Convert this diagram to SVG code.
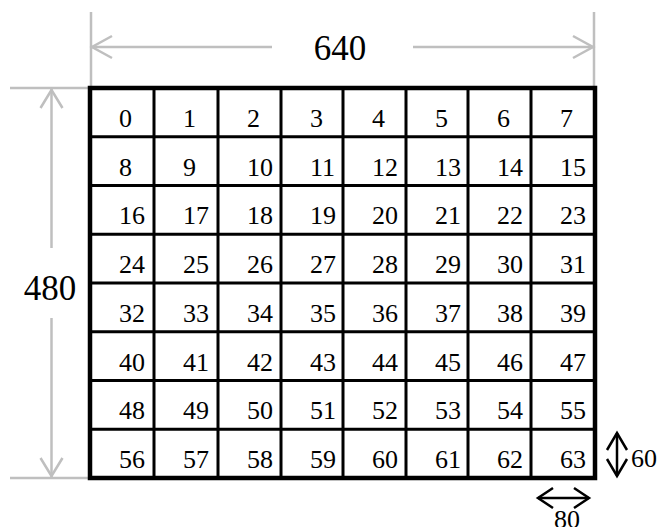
<svg xmlns="http://www.w3.org/2000/svg" width="671" height="527" viewBox="0 0 671 527">
<style>
.dim{stroke:#bfbfbf;stroke-width:2.5;fill:none}
.blk{stroke:#000;stroke-width:2.5;fill:none}
.grid{stroke:#000;stroke-width:3;fill:none}
.border{stroke:#000;stroke-width:4.5;fill:none}
text{font-family:"Liberation Serif","Times New Roman",serif;fill:#000}
.t{font-size:26px}
.big{font-size:35px}
</style>
<rect width="671" height="527" fill="#fff"/>
<g id="dimensions">
<line class="dim" x1="91" y1="12" x2="91" y2="88"/>
<line class="dim" x1="594" y1="12" x2="594" y2="88"/>
<line class="dim" x1="91" y1="47" x2="272" y2="47"/>
<line class="dim" x1="413" y1="47" x2="594" y2="47"/>
<polyline class="dim" points="112,36 92,47 112,58"/>
<polyline class="dim" points="573,36 593,47 573,58"/>
<text class="big" x="340" y="60" text-anchor="middle">640</text>
<line class="dim" x1="10" y1="88" x2="90" y2="88"/>
<line class="dim" x1="10" y1="478" x2="90" y2="478"/>
<line class="dim" x1="51.5" y1="89" x2="51.5" y2="248"/>
<line class="dim" x1="51.5" y1="318" x2="51.5" y2="477"/>
<polyline class="dim" points="40.5,108 51.5,90 62.5,108"/>
<polyline class="dim" points="40.5,458 51.5,476 62.5,458"/>
<text class="big" x="50" y="300" text-anchor="middle">480</text>
</g>
<g id="grid">
<rect class="border" x="90" y="88" width="505" height="390"/>
<path class="grid" d="M154 88V478M218 88V478M281 88V478M343 88V478M406 88V478M468 88V478M531 88V478M90 136.75H595M90 185.5H595M90 234.25H595M90 283H595M90 331.75H595M90 380.5H595M90 429.25H595"/>
</g>
<g id="cells">
<g id="row0"><text class="t" x="119" y="127">0</text><text class="t" x="183" y="127">1</text><text class="t" x="247" y="127">2</text><text class="t" x="310" y="127">3</text><text class="t" x="372" y="127">4</text><text class="t" x="435" y="127">5</text><text class="t" x="497" y="127">6</text><text class="t" x="560" y="127">7</text></g>
<g id="row1"><text class="t" x="119" y="175.5">8</text><text class="t" x="183" y="175.5">9</text><text class="t" x="247" y="175.5">10</text><text class="t" x="310" y="175.5">11</text><text class="t" x="372" y="175.5">12</text><text class="t" x="435" y="175.5">13</text><text class="t" x="497" y="175.5">14</text><text class="t" x="560" y="175.5">15</text></g>
<g id="row2"><text class="t" x="119" y="224.2">16</text><text class="t" x="183" y="224.2">17</text><text class="t" x="247" y="224.2">18</text><text class="t" x="310" y="224.2">19</text><text class="t" x="372" y="224.2">20</text><text class="t" x="435" y="224.2">21</text><text class="t" x="497" y="224.2">22</text><text class="t" x="560" y="224.2">23</text></g>
<g id="row3"><text class="t" x="119" y="273">24</text><text class="t" x="183" y="273">25</text><text class="t" x="247" y="273">26</text><text class="t" x="310" y="273">27</text><text class="t" x="372" y="273">28</text><text class="t" x="435" y="273">29</text><text class="t" x="497" y="273">30</text><text class="t" x="560" y="273">31</text></g>
<g id="row4"><text class="t" x="119" y="321.7">32</text><text class="t" x="183" y="321.7">33</text><text class="t" x="247" y="321.7">34</text><text class="t" x="310" y="321.7">35</text><text class="t" x="372" y="321.7">36</text><text class="t" x="435" y="321.7">37</text><text class="t" x="497" y="321.7">38</text><text class="t" x="560" y="321.7">39</text></g>
<g id="row5"><text class="t" x="119" y="370.5">40</text><text class="t" x="183" y="370.5">41</text><text class="t" x="247" y="370.5">42</text><text class="t" x="310" y="370.5">43</text><text class="t" x="372" y="370.5">44</text><text class="t" x="435" y="370.5">45</text><text class="t" x="497" y="370.5">46</text><text class="t" x="560" y="370.5">47</text></g>
<g id="row6"><text class="t" x="119" y="419.2">48</text><text class="t" x="183" y="419.2">49</text><text class="t" x="247" y="419.2">50</text><text class="t" x="310" y="419.2">51</text><text class="t" x="372" y="419.2">52</text><text class="t" x="435" y="419.2">53</text><text class="t" x="497" y="419.2">54</text><text class="t" x="560" y="419.2">55</text></g>
<g id="row7"><text class="t" x="119" y="468">56</text><text class="t" x="183" y="468">57</text><text class="t" x="247" y="468">58</text><text class="t" x="310" y="468">59</text><text class="t" x="372" y="468">60</text><text class="t" x="435" y="468">61</text><text class="t" x="497" y="468">62</text><text class="t" x="560" y="468">63</text></g>
</g>
<g id="cell-size">
<line class="blk" x1="617" y1="433" x2="617" y2="476"/>
<polyline class="blk" points="607,450 617,433 627,450"/>
<polyline class="blk" points="607,459 617,476 627,459"/>
<text class="t" x="631" y="467">60</text>
<line class="blk" x1="538" y1="498" x2="589" y2="498"/>
<polyline class="blk" points="553,488 538,498 553,508"/>
<polyline class="blk" points="574,488 589,498 574,508"/>
<text class="t" x="567" y="528" text-anchor="middle">80</text>
</g>
</svg>
